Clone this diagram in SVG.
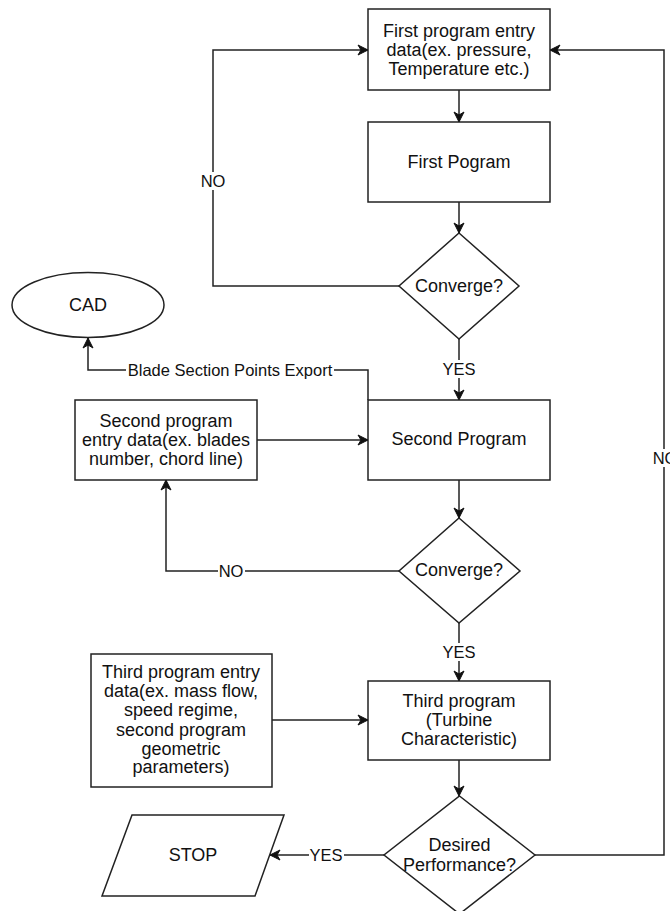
<svg xmlns="http://www.w3.org/2000/svg" width="670" height="911" viewBox="0 0 670 911">
<style>
.n{fill:#fff;stroke:#222;stroke-width:1.5}
.t{font-family:"Liberation Sans",Arial,sans-serif;font-size:18px;fill:#111;text-anchor:middle;dominant-baseline:central}
.l{font-family:"Liberation Sans",Arial,sans-serif;font-size:16.5px;fill:#111;text-anchor:middle;dominant-baseline:central}
.e{fill:none;stroke:#222;stroke-width:1.5}
.a{marker-end:url(#arr)}
</style>
<defs>
<marker id="arr" markerUnits="userSpaceOnUse" markerWidth="12" markerHeight="12" viewBox="0 0 12 12" refX="11" refY="6" orient="auto">
<path d="M1,1 L11,6 L1,11 L4,6 Z" fill="#111" stroke="#111" stroke-width="1"/>
</marker>
</defs>
<rect width="670" height="911" fill="#fff"/>
<g id="edges">
<path class="e a" d="M459,90 V122"/>
<path class="e a" d="M459,202 V233"/>
<path class="e a" d="M399,286 H213 V50 H368"/>
<path class="e a" d="M459,339 V400"/>
<path class="e a" d="M368,400 V370 H88 V338"/>
<path class="e a" d="M257,440 H368"/>
<path class="e a" d="M459,480 V518"/>
<path class="e a" d="M399,571 H166 V480"/>
<path class="e a" d="M459,623 V681"/>
<path class="e a" d="M272,720 H368"/>
<path class="e a" d="M459,760 V796"/>
<path class="e a" d="M384,855 H270"/>
<path class="e a" d="M535,855 H664 V50 H550"/>
<g id="edge-labels">
<rect x="200" y="172" width="27" height="18" fill="#fff"/><text class="l" x="213" y="181">NO</text>
<rect x="441" y="360" width="36" height="18" fill="#fff"/><text class="l" x="459" y="369">YES</text>
<rect x="126" y="361" width="208" height="18" fill="#fff"/><text class="l" x="230" y="370">Blade Section Points Export</text>
<rect x="218" y="562" width="27" height="18" fill="#fff"/><text class="l" x="231" y="571">NO</text>
<rect x="441" y="643" width="36" height="18" fill="#fff"/><text class="l" x="459" y="652">YES</text>
<rect x="309" y="846" width="35" height="18" fill="#fff"/><text class="l" x="326" y="855">YES</text>
<rect x="651" y="449" width="27" height="18" fill="#fff"/><text class="l" x="665" y="458">NO</text>
</g>
</g>
<g id="first-entry">
<rect class="n" x="368" y="9" width="182" height="81"/>
<text class="t" x="459" y="31">First program entry</text>
<text class="t" x="459" y="50">data(ex. pressure,</text>
<text class="t" x="459" y="69">Temperature etc.)</text>
</g>
<g id="first-program">
<rect class="n" x="368" y="122" width="182" height="80"/>
<text class="t" x="459" y="162">First Pogram</text>
</g>
<g id="converge1">
<polygon class="n" points="459,233 519,286 459,339 399,286"/>
<text class="t" x="459" y="286">Converge?</text>
</g>
<g id="cad">
<ellipse class="n" cx="88" cy="305" rx="76" ry="32.5"/>
<text class="t" x="88" y="305">CAD</text>
</g>
<g id="second-entry">
<rect class="n" x="75" y="400" width="182" height="80"/>
<text class="t" x="166" y="421">Second program</text>
<text class="t" x="166" y="440">entry data(ex. blades</text>
<text class="t" x="166" y="459">number, chord line)</text>
</g>
<g id="second-program">
<rect class="n" x="368" y="400" width="182" height="80"/>
<text class="t" x="459" y="439">Second Program</text>
</g>
<g id="converge2">
<polygon class="n" points="459,518 520,571 459,623 399,571"/>
<text class="t" x="459" y="570">Converge?</text>
</g>
<g id="third-entry">
<rect class="n" x="91" y="654" width="181" height="133"/>
<text class="t" x="181" y="672">Third program entry</text>
<text class="t" x="181" y="691">data(ex. mass flow,</text>
<text class="t" x="181" y="710">speed regime,</text>
<text class="t" x="181" y="730">second program</text>
<text class="t" x="181" y="749">geometric</text>
<text class="t" x="181" y="767">parameters)</text>
</g>
<g id="third-program">
<rect class="n" x="368" y="681" width="182" height="79"/>
<text class="t" x="459" y="701">Third program</text>
<text class="t" x="459" y="720">(Turbine</text>
<text class="t" x="459" y="739">Characteristic)</text>
</g>
<g id="desired">
<polygon class="n" points="459.5,796 535,855 459.5,914 384,855"/>
<text class="t" x="459.5" y="845">Desired</text>
<text class="t" x="459.5" y="865">Performance?</text>
</g>
<g id="stop">
<polygon class="n" points="132,815 284,815 255,896 102,896"/>
<text class="t" x="193" y="855">STOP</text>
</g>
</svg>
